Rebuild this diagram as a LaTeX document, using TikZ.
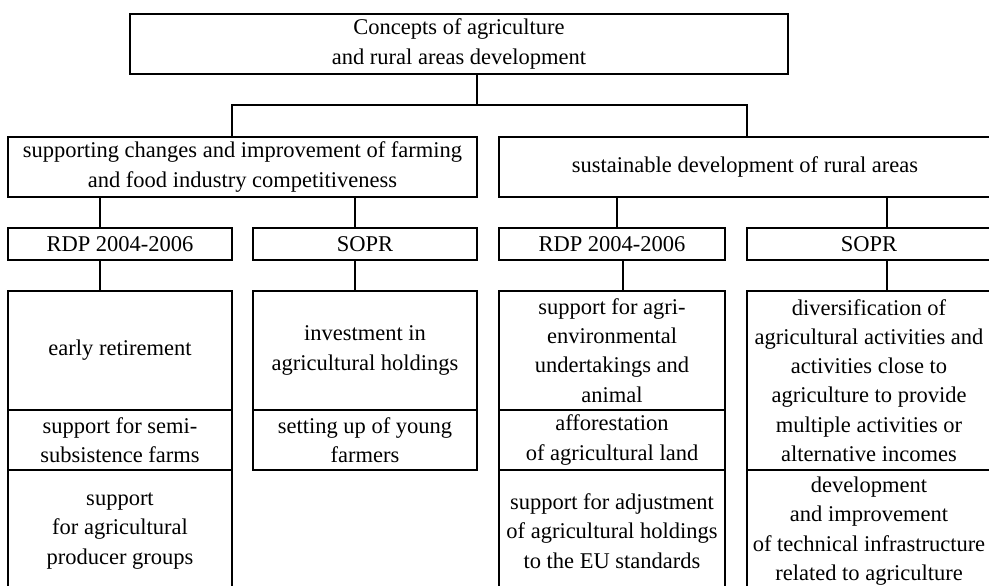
\documentclass[tikz,border=0pt]{standalone}
\usepackage{fontspec}
\setmainfont{Liberation Serif}
\begin{document}
\begin{tikzpicture}[x=1pt, y=-1pt,
    box/.style={draw, line width=1.3pt, anchor=north west, align=center,
        inner sep=0pt, outer sep=0pt, font=\fontsize{22.5}{29.3}\selectfont},
    link/.style={line width=1.3pt}]
    \useasboundingbox (0,0) rectangle (989,586);
    \clip (0,0) rectangle (989,586);
    % top
    \node[box, minimum width=658, minimum height=60] (concepts) at (130,14)
        {Concepts of agriculture\\and rural areas development};
    % two aims
    \node[box, minimum width=469, minimum height=60] (compet) at (8,137)
        {supporting changes and improvement of farming\\and food industry competitiveness};
    \node[box, minimum width=492, minimum height=60] (rural) at (499,137)
        {sustainable development of rural areas};
    % programmes
    \node[box, minimum width=224, minimum height=32] (rdpA) at (8,228) {RDP 2004-2006};
    \node[box, minimum width=224, minimum height=32] (soprA) at (253,228) {SOPR};
    \node[box, minimum width=226, minimum height=32] (rdpB) at (499,228) {RDP 2004-2006};
    \node[box, minimum width=244, minimum height=32] (soprB) at (747,228) {SOPR};
    % measures
    \node[box, minimum width=224, minimum height=119] (retire) at (8,291) {early retirement};
    \node[box, minimum width=224, minimum height=60] (semi) at (8,410)
        {support for semi-\\subsistence farms};
    \node[box, minimum width=224, minimum height=122] (groups) at (8,470)
        {support\\for agricultural\\producer groups};
    \node[box, minimum width=224, minimum height=119] (invest) at (253,291)
        {investment in\\agricultural holdings};
    \node[box, minimum width=224, minimum height=60] (young) at (253,410)
        {setting up of young\\farmers};
    \node[box, minimum width=226, minimum height=119] (agrienv) at (499,291)
        {support for agri-\\environmental\\undertakings and\\animal};
    \node[box, minimum width=226, minimum height=60] (forest) at (499,410)
        {afforestation\\of agricultural land};
    \node[box, minimum width=226, minimum height=122] (adjust) at (499,470)
        {support for adjustment\\of agricultural holdings\\to the EU standards};
    \node[box, minimum width=244, minimum height=179] (divers) at (747,291)
        {diversification of\\agricultural activities and\\activities close to\\agriculture to provide\\multiple activities or\\alternative incomes};
    \node[box, minimum width=244, minimum height=122] (infra) at (747,470)
        {development\\and improvement\\of technical infrastructure\\related to agriculture};
    % links
    \coordinate (fork) at (477,105);
    \draw[link] (concepts.south -| fork) -- (fork);
    \draw[link] (compet.north -| 232,0) |- (fork) -| (rural.north -| 747,0);
    \draw[link] (compet.south -| 100,0) -- (rdpA.north -| 100,0);
    \draw[link] (compet.south -| 355,0) -- (soprA.north -| 355,0);
    \draw[link] (rural.south -| 617,0) -- (rdpB.north -| 617,0);
    \draw[link] (rural.south -| 887,0) -- (soprB.north -| 887,0);
    \draw[link] (rdpA.south -| 100,0) -- (retire.north -| 100,0);
    \draw[link] (soprA.south -| 355,0) -- (invest.north -| 355,0);
    \draw[link] (rdpB.south -| 623,0) -- (agrienv.north -| 623,0);
    \draw[link] (soprB.south -| 887,0) -- (divers.north -| 887,0);
\end{tikzpicture}
\end{document}
